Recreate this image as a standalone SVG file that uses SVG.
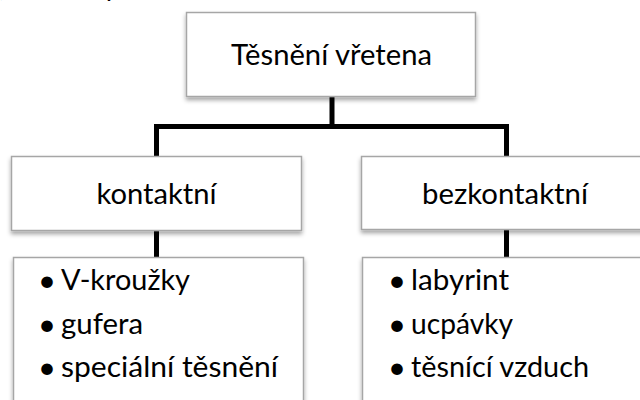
<svg xmlns="http://www.w3.org/2000/svg" width="640" height="400" viewBox="0 0 640 400">
  <defs>
    <filter id="sh" x="-10%" y="-10%" width="120%" height="140%">
      <feDropShadow dx="0" dy="3" stdDeviation="2" flood-color="#000" flood-opacity="0.35"/>
    </filter>
  </defs>
  <style>
    .box { fill: #ffffff; stroke: #a6a6a6; stroke-width: 1.5; filter: url(#sh); }
    .lbl { font-family: Lato, "Open Sans", "Liberation Sans", sans-serif; font-size: 28px; fill: #000; }
    .mid { text-anchor: middle; }
    .bul { font-size: 31px; }
    .conn { fill: none; stroke: #000; stroke-width: 5; stroke-linecap: square; stroke-linejoin: miter; }
  </style>
  <rect x="0" y="0" width="640" height="400" fill="#ffffff"/>
  <g id="fragments">
    <text class="lbl" x="-4" y="-4">(</text>
    <text class="lbl" x="104" y="-4">y</text>
  </g>
  <g id="connectors">
    <path class="conn" d="M332 96 V126.5 M156.5 156 V126.5 H506.5 V156"/>
    <path class="conn" d="M156.5 230 V257"/>
    <path class="conn" d="M506.5 230 V257"/>
  </g>
  <g id="root">
    <rect class="box" x="186.5" y="12.5" width="289" height="84"/>
    <text class="lbl mid" x="331.5" y="65" textLength="201" lengthAdjust="spacingAndGlyphs">Těsnění vřetena</text>
  </g>
  <g id="kontaktni">
    <rect class="box" x="11.5" y="156.5" width="290" height="74"/>
    <text class="lbl mid" x="156.5" y="204" textLength="120" lengthAdjust="spacingAndGlyphs">kontaktní</text>
  </g>
  <g id="bezkontaktni">
    <rect class="box" x="361.5" y="156.5" width="290" height="73"/>
    <text class="lbl mid" x="505" y="204" textLength="166" lengthAdjust="spacingAndGlyphs">bezkontaktní</text>
  </g>
  <g id="kontaktni-list">
    <rect class="box" x="13.5" y="257.5" width="290" height="160"/>
    <text class="lbl"><tspan class="bul" x="38" y="291">•</tspan><tspan x="61" y="290" textLength="129" lengthAdjust="spacingAndGlyphs">V-kroužky</tspan></text>
    <text class="lbl"><tspan class="bul" x="38" y="335">•</tspan><tspan x="61" y="334" textLength="82" lengthAdjust="spacingAndGlyphs">gufera</tspan></text>
    <text class="lbl"><tspan class="bul" x="38" y="378">•</tspan><tspan x="61" y="377" textLength="217" lengthAdjust="spacingAndGlyphs">speciální těsnění</tspan></text>
  </g>
  <g id="bezkontaktni-list">
    <rect class="box" x="362.5" y="257.5" width="290" height="160"/>
    <text class="lbl"><tspan class="bul" x="388" y="291">•</tspan><tspan x="411" y="290" textLength="98" lengthAdjust="spacingAndGlyphs">labyrint</tspan></text>
    <text class="lbl"><tspan class="bul" x="388" y="335">•</tspan><tspan x="411" y="334" textLength="102" lengthAdjust="spacingAndGlyphs">ucpávky</tspan></text>
    <text class="lbl"><tspan class="bul" x="388" y="378">•</tspan><tspan x="411" y="377" textLength="178" lengthAdjust="spacingAndGlyphs">těsnící vzduch</tspan></text>
  </g>
</svg>
